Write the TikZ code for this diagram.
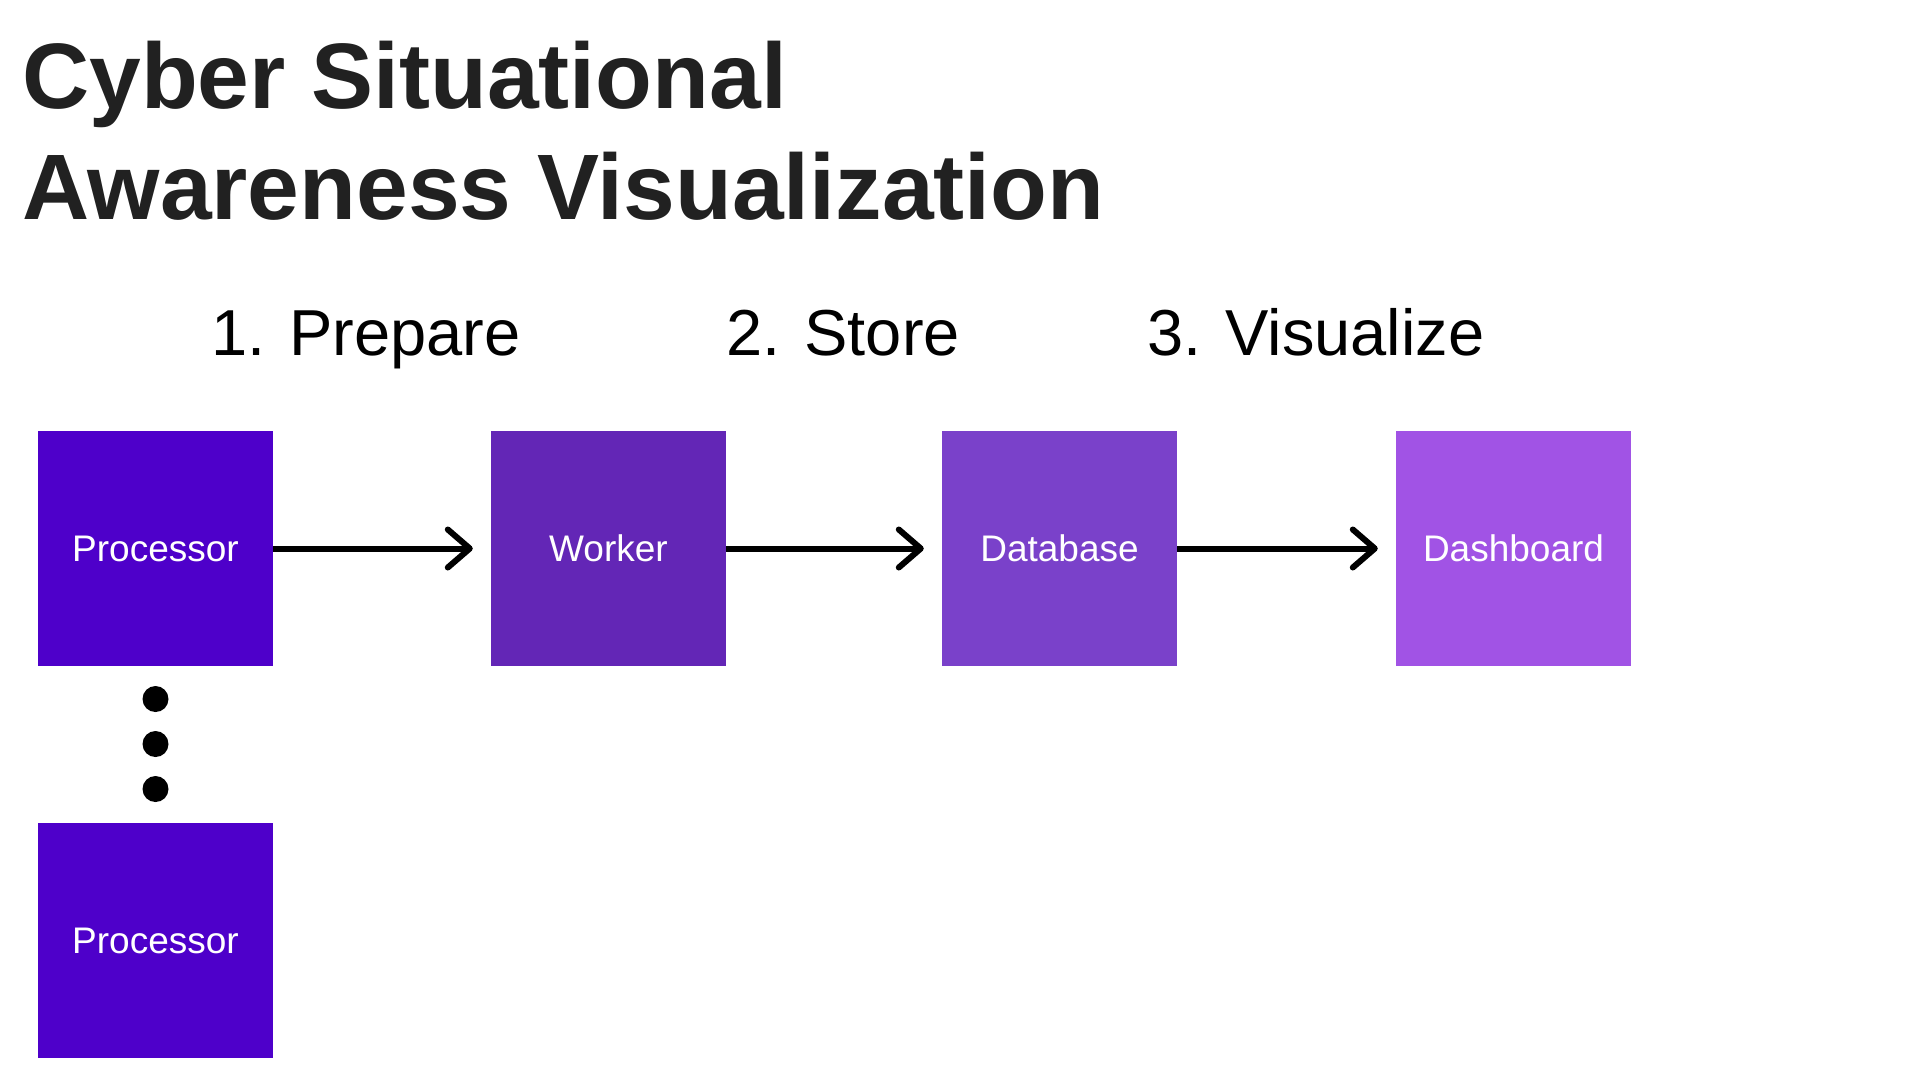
\documentclass[tikz,border=0pt]{standalone}
\usepackage{fontspec}
\setmainfont{Liberation Sans}
\usetikzlibrary{arrows.meta, positioning}
\definecolor{titlegray}{HTML}{212121}
\definecolor{procviolet}{HTML}{4E00CA}
\definecolor{workerviolet}{HTML}{6326B6}
\definecolor{dbviolet}{HTML}{7A41CA}
\definecolor{dashviolet}{HTML}{A153E5}
\begin{document}
\begin{tikzpicture}[x=1pt, y=-1pt,
  stage/.style={minimum size=235pt, inner sep=0pt, text=white, font=\fontsize{37}{44}\selectfont},
  steplabel/.style={anchor=base west, inner sep=0pt, font=\fontsize{65}{78}\selectfont},
  flow/.style={line width=6pt, shorten >=18pt, -{Straight Barb[length=22pt, width=38pt, round]}}]
\useasboundingbox (0,0) rectangle (1920,1080);
% title
\node [anchor=base west, inner sep=0pt, text=titlegray, font=\fontsize{93}{110}\selectfont\bfseries] (title1) at (22,108) {Cyber Situational};
\node [anchor=base west, inner sep=0pt, text=titlegray, font=\fontsize{93}{110}\selectfont\bfseries] (title2) at (22,219) {Awareness Visualization};
% steps
\node [steplabel] (prepare) at (211,355) {1. Prepare};
\node [steplabel] (store) at (726,355) {2. Store};
\node [steplabel] (visualize) at (1147,355) {3. Visualize};
% boxes
\node [stage, fill=procviolet] (proc) at (155.5,548.5) {Processor};
\node [stage, fill=workerviolet] (worker) at (608.5,548.5) {Worker};
\node [stage, fill=dbviolet] (db) at (1059.5,548.5) {Database};
\node [stage, fill=dashviolet] (dash) at (1513.5,548.5) {Dashboard};
\node [stage, fill=procviolet] (proclast) at (155.5,940.5) {Processor};
% dots
\foreach \y [count=\i] in {699,744,789}
  \node [circle, fill=black, inner sep=0pt, minimum size=26pt] (dot\i) at (155.5,\y) {};
% arrows
\draw [flow] (proc) -- (worker);
\draw [flow] (worker) -- (db);
\draw [flow] (db) -- (dash);
\end{tikzpicture}
\end{document}
